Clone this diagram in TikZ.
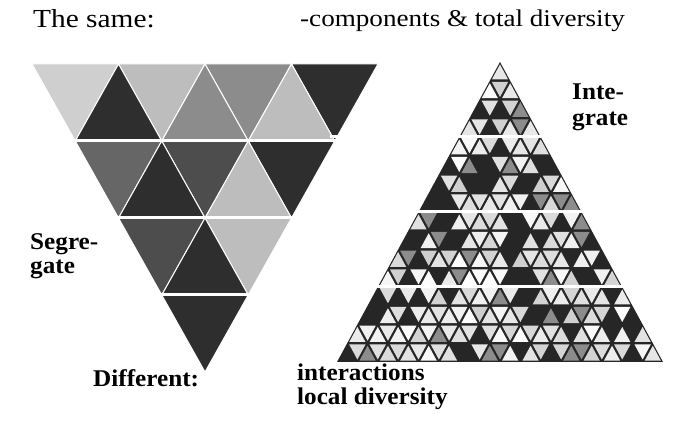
\documentclass[tikz,border=0pt]{standalone}
\usepackage{fontspec}
\setmainfont{Liberation Serif}
\newfontfamily\widefont[FakeStretch=1.13]{Liberation Serif}
\newfontfamily\labelfont[FakeStretch=1.05]{Liberation Serif}
\definecolor{pale}{HTML}{CFCFCF}
\definecolor{light}{HTML}{BDBDBD}
\definecolor{mid}{HTML}{8C8C8C}
\definecolor{middark}{HTML}{666666}
\definecolor{darkish}{HTML}{4D4D4D}
\definecolor{dark}{HTML}{2E2E2E}
\definecolor{ink}{HTML}{262626}
\tikzset{
  lbl/.style={font=\labelfont\bfseries\fontsize{24}{24}\selectfont, inner sep=0pt, align=left},
  toplbl/.style={font=\widefont\fontsize{24}{24}\selectfont, inner sep=0pt, anchor=base west},
  tile/.style={draw=white, line width=1pt},
  band/.style={draw=white, line width=3pt}
}

\begin{document}
\begin{tikzpicture}[x=1pt,y=-1pt]
  \fill[white] (0,0) rectangle (673,427);
  \useasboundingbox (0,0) rectangle (673,427);
  % segregated: 16 big tiles
  \def\xl{32} \def\yt{64} \def\sa{86.5} \def\sh{77}
  \foreach \r/\k/\c in {0/0/pale,0/1/light,0/2/mid,0/3/dark,1/0/middark,1/1/darkish,1/2/dark,2/0/darkish,2/1/light,3/0/dark}
    \fill[\c,tile] ({\xl+\r*\sa/2+\k*\sa},{\yt+\r*\sh}) -- ++(\sa,0) -- ++(-\sa/2,\sh) -- cycle;
  \foreach \r/\k/\c in {0/0/dark,0/1/mid,0/2/light,1/0/dark,1/1/light,2/0/dark}
    \fill[\c,tile] ({\xl+\r*\sa/2+\sa/2+\k*\sa},{\yt+(\r+1)*\sh}) -- ++(\sa,0) -- ++(-\sa/2,-\sh) -- cycle;
  \foreach \r in {1,2,3}
    \draw[band] (20,{\yt+\r*\sh}) -- (395,{\yt+\r*\sh});

  % integrated: 256 small tiles
  \def\xa{500} \def\ya{62} \def\ta{20.375} \def\th{18.75} \def\s{0.8}
  \fill[ink] (\xa,\ya) -- ({\xa-8*\ta},{\ya+16*\th}) -- ({\xa+8*\ta},{\ya+16*\th}) -- cycle;
  \pgfmathsetseed{11}
  \foreach \r in {0,...,15} {
    \foreach \k in {0,...,\r} {
      \pgfmathsetmacro\v{rnd}
      \ifdim\v pt>0.24pt
        \pgfmathsetmacro\lvl{\v<0.32 ? 45 : 28*(1-\v)}
        \pgfmathsetmacro\cx{\xa-\r*\ta/2+\k*\ta}
        \pgfmathsetmacro\cy{\ya+(\r+1)*\th-\th/3}
        \fill[black!\lvl] ({\cx-\s*\ta/2},{\cy+\s*\th/3}) -- ({\cx+\s*\ta/2},{\cy+\s*\th/3}) -- (\cx,{\cy-2*\s*\th/3}) -- cycle;
      \fi
      \ifnum\k<\r
        \pgfmathsetmacro\v{rnd}
        \ifdim\v pt>0.24pt
          \pgfmathsetmacro\lvl{\v<0.32 ? 45 : 28*(1-\v)}
          \pgfmathsetmacro\cx{\xa-\r*\ta/2+\k*\ta+\ta/2}
          \pgfmathsetmacro\cy{\ya+\r*\th+\th/3}
          \fill[black!\lvl] ({\cx-\s*\ta/2},{\cy-\s*\th/3}) -- ({\cx+\s*\ta/2},{\cy-\s*\th/3}) -- (\cx,{\cy+2*\s*\th/3}) -- cycle;
        \fi
      \fi
    }
  }
  \foreach \r in {4,8,12}
    \draw[band] (330,{\ya+\r*\th}) -- (670,{\ya+\r*\th});

  % labels
  \node[toplbl,font=\widefont\fontsize{26}{26}\selectfont] (same) at (33,28) {The same:};
  \node[toplbl] (comp) at (300,27) {-components \& total diversity};
  \node[lbl,anchor=north west] (seg) at (30,233) {Segre-\\gate};
  \node[lbl,anchor=north west,font=\labelfont\bfseries\fontsize{24}{26}\selectfont] (integ) at (572,84) {Inte-\\grate};
  \node[lbl,anchor=base west] (diff) at (93,387) {Different:};
  \node[lbl,anchor=north west] (inter) at (297,364) {interactions\\local diversity};
\end{tikzpicture}
\end{document}
